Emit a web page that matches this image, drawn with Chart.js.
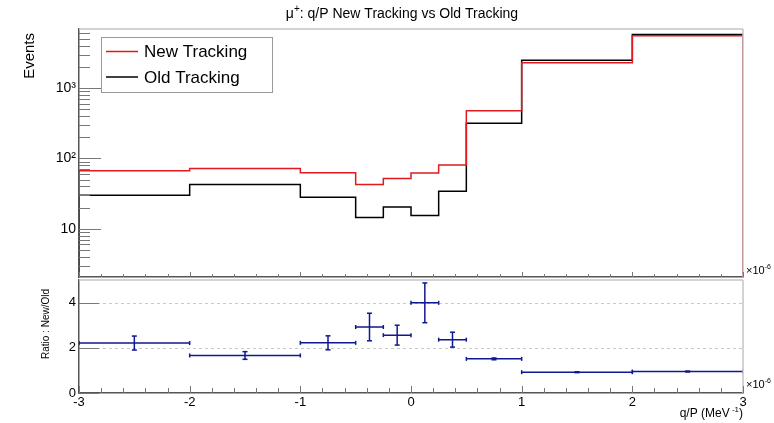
<!DOCTYPE html>
<html>
<head>
<meta charset="utf-8">
<script src="https://cdn.jsdelivr.net/npm/chart.js@4"></script>
<style>
  html, body { margin: 0; padding: 0; background: #fff; }
  #wrap { position: relative; width: 774px; height: 423px; }
  canvas { position: absolute; left: 0; top: 0; }
</style>
</head>
<body>
<div id="wrap">
  <canvas id="histCanvas" width="774" height="423"></canvas>
  <canvas id="ratioCanvas" width="774" height="423"></canvas>
</div>
<script>
// Bins (q/P, x 10^-6 MeV^-1) and contents
const binEdges = [-3, -2, -1, -0.5, -0.25, 0, 0.25, 0.5, 1, 2, 3];
const newTracking = [67, 72, 62.5, 42.5, 52, 62, 80.5, 476, 2300, 5550];
const oldTracking = [30, 42.5, 28, 14.5, 20.4, 15.5, 34.2, 316, 2490, 5800];

// Ratio New/Old with errors
const ratioValues = [2.21, 1.66, 2.22, 2.92, 2.56, 3.99, 2.36, 1.51, 0.92, 0.95];
const ratioErrors = [0.31, 0.17, 0.31, 0.61, 0.44, 0.88, 0.33, 0.04, 0.02, 0.02];

// Ticks
const xTicks = [-3, -2, -1, 0, 1, 2, 3];
const eventTicks = [10, 100, 1000];
const eventTickLabels = ['10', '10²', '10³'];
const ratioTicks = [0, 2, 4];
const ratioTickLabels = ['0', '2', '4'];

const FONT = "'Liberation Sans', Arial, sans-serif";
Chart.defaults.font.family = FONT;
Chart.defaults.color = '#000';

const RED = '#e01a1f';
const BLUE = '#0f1890';
const FRAME_GRAY = '#c4c4c4';
const AXIS_DARK = '#555';
const TICK_GRAY = '#777';

const yMin = 2.06, yMax = 6950;

function font(size) { return size + 'px ' + FONT; }

// texto com expoente (parts: {t, sup})
function drawRich(ctx, parts, x, y, size, align) {
  const small = Math.round(size * 0.68);
  const widths = parts.map(p => { ctx.font = font(p.sup ? small : size); return ctx.measureText(p.t).width; });
  const total = widths.reduce((a, b) => a + b, 0);
  let cx = align === 'right' ? x - total : align === 'center' ? x - total / 2 : x;
  ctx.textAlign = 'left';
  ctx.textBaseline = 'alphabetic';
  parts.forEach((p, i) => {
    ctx.font = font(p.sup ? small : size);
    ctx.fillText(p.t, cx, p.sup ? y - size * 0.42 : y);
    cx += widths[i];
  });
}

function line(ctx, x1, y1, x2, y2) {
  ctx.beginPath();
  ctx.moveTo(x1, y1);
  ctx.lineTo(x2, y2);
  ctx.stroke();
}

// ticks para dentro, estilo ROOT
function drawXTicks(chart, majorLen, minorLen) {
  const { ctx, chartArea } = chart;
  const sx = chart.scales.x;
  ctx.strokeStyle = TICK_GRAY;
  ctx.lineWidth = 1;
  for (let k = 0; k <= 30; k++) {
    const v = -3 + k * 0.2;
    const px = Math.round(sx.getPixelForValue(v)) + 0.5;
    const len = k % 5 === 0 ? majorLen : minorLen;
    line(ctx, px, chartArea.bottom, px, chartArea.bottom - len);
  }
}

function drawFrame(chart) {
  const { ctx, chartArea } = chart;
  ctx.save();
  ctx.strokeStyle = FRAME_GRAY;
  ctx.lineWidth = 1.5;
  line(ctx, chartArea.left, chartArea.top, chartArea.right, chartArea.top);
  line(ctx, chartArea.right, chartArea.top, chartArea.right, chartArea.bottom);
  ctx.restore();
}

function histPoints(values) {
  const last = binEdges.length - 1;
  const pts = [{ x: binEdges[0], y: yMin }];
  values.forEach((v, i) => pts.push({ x: binEdges[i], y: v }));
  pts.push({ x: binEdges[last], y: values[values.length - 1] });
  pts.push({ x: binEdges[last], y: yMin });
  return pts;
}

// Painel superior
const histDecor = {
  id: 'histDecor',
  afterDraw(chart) {
    const { ctx, chartArea } = chart;
    const sy = chart.scales.y;
    ctx.save();
    drawFrame(chart);
    // log ticks
    ctx.strokeStyle = TICK_GRAY;
    ctx.lineWidth = 1;
    for (let d = 0; d <= 3; d++) {
      for (let m = 1; m <= 9; m++) {
        const v = m * Math.pow(10, d);
        if (v < yMin || v > yMax) continue;
        const py = Math.round(sy.getPixelForValue(v)) + 0.5;
        line(ctx, chartArea.left, py, chartArea.left + (m === 1 ? 22 : 11), py);
      }
    }
    drawXTicks(chart, 5, 3);

    // legenda
    const lx = 101, ly = 37, lw = 171, lh = 55;
    ctx.fillStyle = '#fff';
    ctx.fillRect(lx, ly, lw, lh);
    ctx.strokeStyle = '#9a9a9a';
    ctx.lineWidth = 1;
    ctx.strokeRect(lx + 0.5, ly + 0.5, lw, lh);
    const rows = [51.5, 77];
    chart.data.datasets.forEach((ds, i) => {
      ctx.strokeStyle = ds.borderColor;
      ctx.lineWidth = 1.5;
      line(ctx, 106, rows[i], 138, rows[i]);
      ctx.fillStyle = '#000';
      ctx.font = font(17);
      ctx.textAlign = 'left';
      ctx.textBaseline = 'middle';
      ctx.fillText(ds.label, 144, rows[i] + 1);
    });

    // textos
    ctx.fillStyle = '#000';
    drawRich(ctx, [{ t: 'μ' }, { t: '+', sup: true }, { t: ': q/P New Tracking vs Old Tracking' }], 402, 18, 14, 'center');
    drawRich(ctx, [{ t: '×10' }, { t: '-6', sup: true }], 746, 274, 11, 'left');

    ctx.save();
    ctx.translate(30, 33);
    ctx.rotate(-Math.PI / 2);
    ctx.font = font(15);
    ctx.textAlign = 'right';
    ctx.textBaseline = 'middle';
    ctx.fillText('Events', 0, 0);
    ctx.restore();
    ctx.restore();
  }
};

new Chart(document.getElementById('histCanvas'), {
  type: 'line',
  data: {
    datasets: [
      { label: 'New Tracking', data: histPoints(newTracking), borderColor: RED, borderWidth: 1.5, stepped: 'before', pointRadius: 0, fill: false },
      { label: 'Old Tracking', data: histPoints(oldTracking), borderColor: '#000', borderWidth: 1.5, stepped: 'before', pointRadius: 0, fill: false }
    ]
  },
  options: {
    responsive: false,
    animation: false,
    layout: { padding: { top: 29, right: 31, left: 0, bottom: 0 } },
    plugins: { legend: { display: false }, tooltip: { enabled: false } },
    scales: {
      x: {
        type: 'linear', min: -3, max: 3,
        grid: { display: false },
        border: { display: true, color: AXIS_DARK, width: 1.5 },
        ticks: { display: false },
        afterFit: s => { s.height = 146; }
      },
      y: {
        type: 'logarithmic', min: yMin, max: yMax,
        grid: { display: false, drawTicks: false },
        border: { display: true, color: AXIS_DARK, width: 1.5 },
        afterBuildTicks: s => { s.ticks = eventTicks.map(v => ({ value: v })); },
        ticks: {
          padding: 3,
          font: { size: 14 },
          callback: (v, i) => eventTickLabels[i]
        },
        afterFit: s => { s.width = 79; }
      }
    }
  },
  plugins: [histDecor]
});

// Painel da razão
const hBars = [], vBars = [];
ratioValues.forEach((v, i) => {
  const lo = binEdges[i], hi = binEdges[i + 1], c = (lo + hi) / 2, e = ratioErrors[i];
  hBars.push({ x: lo, y: v }, { x: hi, y: v }, { x: hi, y: null });
  vBars.push({ x: c, y: v - e }, { x: c, y: v + e }, { x: c, y: null });
});

const ratioDecor = {
  id: 'ratioDecor',
  beforeDatasetsDraw(chart) {
    const { ctx, chartArea } = chart;
    const sy = chart.scales.y;
    ctx.save();
    ctx.strokeStyle = '#c8c8c8';
    ctx.lineWidth = 1;
    ctx.setLineDash([3, 3]);
    ratioTicks.forEach(v => {
      if (v === 0) return;
      const py = Math.round(sy.getPixelForValue(v)) + 0.5;
      line(ctx, chartArea.left, py, chartArea.right, py);
    });
    ctx.restore();
  },
  afterDraw(chart) {
    const { ctx, chartArea } = chart;
    const sy = chart.scales.y;
    ctx.save();
    drawFrame(chart);
    ctx.strokeStyle = TICK_GRAY;
    ctx.lineWidth = 1;
    ratioTicks.forEach(v => {
      const py = Math.round(sy.getPixelForValue(v)) + 0.5;
      line(ctx, chartArea.left, py, chartArea.left + 20, py);
    });
    drawXTicks(chart, 7, 5);

    ctx.fillStyle = '#000';
    drawRich(ctx, [{ t: '×10' }, { t: '-6', sup: true }], 746, 388, 11, 'left');
    drawRich(ctx, [{ t: 'q/P (MeV' }, { t: ' -1', sup: true }, { t: ')' }], 743, 417, 12, 'right');

    ctx.save();
    ctx.translate(46, 324);
    ctx.rotate(-Math.PI / 2);
    ctx.font = font(10);
    ctx.textAlign = 'center';
    ctx.textBaseline = 'middle';
    ctx.fillText('Ratio : New/Old', 0, 0);
    ctx.restore();
    ctx.restore();
  }
};

new Chart(document.getElementById('ratioCanvas'), {
  type: 'line',
  data: {
    datasets: [
      {
        label: 'x error', data: hBars, borderColor: BLUE, borderWidth: 1.5, spanGaps: false,
        pointStyle: 'line', pointRadius: 2, pointRotation: 90, pointBorderColor: BLUE, pointBorderWidth: 1.5
      },
      {
        label: 'y error', data: vBars, borderColor: BLUE, borderWidth: 1.5, spanGaps: false,
        pointStyle: 'line', pointRadius: 2.5, pointRotation: 0, pointBorderColor: BLUE, pointBorderWidth: 1.5
      }
    ]
  },
  options: {
    responsive: false,
    animation: false,
    layout: { padding: { top: 280, right: 31, left: 0, bottom: 0 } },
    plugins: { legend: { display: false }, tooltip: { enabled: false } },
    scales: {
      x: {
        type: 'linear', min: -3, max: 3,
        grid: { display: false, drawTicks: false },
        border: { display: true, color: AXIS_DARK, width: 1.5 },
        afterBuildTicks: s => { s.ticks = xTicks.map(v => ({ value: v })); },
        ticks: { padding: 2, font: { size: 13 }, callback: (v, i) => String(xTicks[i]), maxRotation: 0 },
        afterFit: s => { s.height = 30; }
      },
      y: {
        type: 'linear', min: 0, max: 5,
        grid: { display: false, drawTicks: false },
        border: { display: true, color: AXIS_DARK, width: 1.5 },
        afterBuildTicks: s => { s.ticks = ratioTicks.map(v => ({ value: v })); },
        ticks: { padding: 3, font: { size: 13 }, callback: (v, i) => ratioTickLabels[i] },
        afterFit: s => { s.width = 79; }
      }
    }
  },
  plugins: [ratioDecor]
});
</script>
</body>
</html>
